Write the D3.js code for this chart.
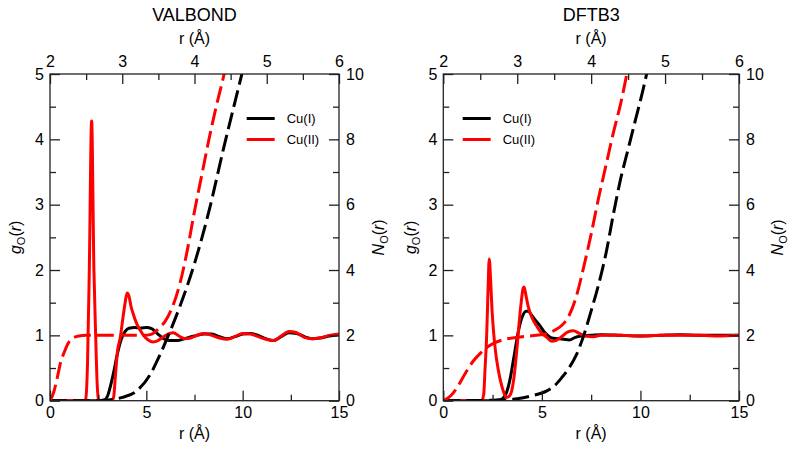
<!DOCTYPE html>
<html><head><meta charset="utf-8">
<script src="https://cdn.jsdelivr.net/npm/d3@7"></script>
<style>
body{margin:0;background:#fff}
text{font-family:"Liberation Sans",Arial,Helvetica,sans-serif;fill:#000}
</style>
</head><body>
<svg id="chart" width="800" height="456"></svg>
<script>
// ---------------- data ----------------
const panelTitles = ["VALBOND", "DFTB3"];
const seriesNames = ["Cu(I)", "Cu(II)"];
const seriesColors = ["#000000", "#ff0000"];

const bottomTicks = [0, 5, 10, 15];
const bottomMinor = [2.5, 7.5, 12.5];
const topTicks = [2, 3, 4, 5, 6];
const topMinor = [2.5, 3.5, 4.5, 5.5];
const leftTicks = [0, 1, 2, 3, 4, 5];
const leftMinor = [0.5, 1.5, 2.5, 3.5, 4.5];
const rightTicks = [0, 2, 4, 6, 8, 10];
const rightMinor = [1, 3, 5, 7, 9];

// g_O(r) vs r (bottom axis, 0-15 Å)
const valbondG_CuI = [[0,0],[2.5,0],[2.8,0.01],[3.0,0.08],[3.1,0.18],[3.3,0.43],[3.5,0.72],[3.7,0.94],[3.9,1.06],[4.1,1.11],[4.4,1.12],[4.7,1.11],[5.0,1.12],[5.3,1.1],[5.6,1.02],[5.9,0.95],[6.2,0.92],[6.6,0.92],[7.0,0.95],[7.5,0.99],[8.0,1.02],[8.4,1.02],[8.8,0.98],[9.2,0.95],[9.6,0.98],[10.0,1.02],[10.4,1.03],[10.8,1.0],[11.2,0.95],[11.6,0.92],[12.0,0.98],[12.4,1.04],[12.8,1.03],[13.2,0.98],[13.6,0.95],[14.0,0.96],[14.5,0.99],[15.0,1.01]];
const valbondG_CuII = [[0,0],[1.8,0],[1.85,0.02],[1.95,0.6],[2.04,2.0],[2.16,4.28],[2.28,2.0],[2.37,1.0],[2.45,0.25],[2.52,0.02],[2.6,0],[3.2,0],[3.3,0.05],[3.4,0.4],[3.5,0.75],[3.65,0.97],[3.8,1.3],[3.9,1.5],[4.0,1.65],[4.1,1.6],[4.2,1.45],[4.35,1.3],[4.5,1.18],[4.7,1.07],[4.85,1.0],[5.1,0.93],[5.35,0.9],[5.6,0.92],[5.9,0.98],[6.2,1.03],[6.4,1.04],[6.7,0.99],[7.0,0.95],[7.3,0.96],[7.7,1.01],[8.0,1.03],[8.4,1.0],[8.8,0.96],[9.2,0.94],[9.6,0.98],[10.0,1.03],[10.4,1.02],[10.8,0.98],[11.2,0.94],[11.6,0.92],[12.0,0.99],[12.4,1.06],[12.8,1.04],[13.2,0.97],[13.6,0.95],[14.0,0.96],[14.5,1.0],[15.0,1.02]];
const dftb3G_CuI = [[0,0],[2.5,0],[2.8,0.01],[3.0,0.03],[3.2,0.12],[3.4,0.35],[3.6,0.7],[3.8,1.05],[4.0,1.28],[4.2,1.37],[4.3,1.37],[4.5,1.3],[4.7,1.22],[4.9,1.15],[5.1,1.06],[5.3,1.0],[5.5,0.96],[5.8,0.95],[6.1,0.94],[6.4,0.93],[6.7,0.97],[7.0,0.99],[7.5,1.0],[8.0,1.01],[9.0,1.0],[10.0,0.99],[11.0,1.0],[12.0,1.01],[13.0,1.0],[14.0,1.0],[15.0,1.0]];
const dftb3G_CuII = [[0,0],[1.95,0],[2.05,0.1],[2.12,0.5],[2.2,1.0],[2.27,1.7],[2.33,2.17],[2.4,1.85],[2.47,1.4],[2.54,1.09],[2.65,0.75],[2.79,0.47],[2.92,0.28],[3.04,0.15],[3.2,0.05],[3.35,0.07],[3.47,0.15],[3.56,0.3],[3.64,0.5],[3.76,0.88],[3.85,1.2],[3.95,1.5],[4.05,1.72],[4.1,1.74],[4.2,1.6],[4.3,1.45],[4.5,1.27],[4.74,1.14],[5.0,1.03],[5.25,0.97],[5.5,0.91],[5.7,0.92],[6.0,0.98],[6.3,1.05],[6.6,1.07],[6.9,1.03],[7.2,0.99],[7.6,0.98],[8.0,1.0],[9.0,1.0],[10.0,0.99],[11.0,1.0],[12.0,1.0],[13.0,1.0],[14.0,0.99],[15.0,1.0]];

// N_O(r) vs r (top axis, 2-6 Å; right axis 0-10)
const valbondN_CuI = [[2.0,0],[2.6,0],[2.8,0.02],[3.0,0.1],[3.2,0.3],[3.4,0.85],[3.5,1.3],[3.6,1.8],[3.8,2.9],[4.0,4.2],[4.2,5.8],[4.4,7.7],[4.6,9.5],[4.7,10.4]];
const valbondN_CuII = [[2.0,0],[2.05,0.25],[2.1,0.7],[2.15,1.2],[2.2,1.5],[2.25,1.75],[2.3,1.9],[2.4,1.98],[2.5,2.0],[3.3,2.0],[3.4,2.03],[3.5,2.2],[3.6,2.45],[3.7,2.9],[3.8,3.6],[3.9,4.6],[4.0,5.8],[4.1,6.9],[4.2,8.0],[4.3,9.0],[4.4,9.9],[4.45,10.4]];
const dftb3N_CuI = [[2.0,0],[2.8,0.02],[3.0,0.06],[3.2,0.15],[3.4,0.3],[3.5,0.45],[3.6,0.7],[3.7,1.0],[3.8,1.4],[3.9,2.0],[4.0,2.75],[4.1,3.55],[4.2,4.5],[4.3,5.7],[4.4,6.8],[4.5,7.7],[4.6,8.6],[4.7,9.5],[4.78,10.3]];
const dftb3N_CuII = [[2.0,0],[2.1,0.15],[2.2,0.45],[2.3,0.85],[2.4,1.2],[2.5,1.45],[2.6,1.65],[2.7,1.78],[2.8,1.86],[3.0,1.94],[3.2,1.99],[3.4,2.05],[3.5,2.15],[3.6,2.3],[3.7,2.6],[3.8,3.2],[3.9,4.1],[4.0,5.1],[4.1,6.2],[4.2,7.2],[4.3,8.2],[4.4,9.1],[4.5,10.2]];

const gData = [[valbondG_CuI, valbondG_CuII], [dftb3G_CuI, dftb3G_CuII]];
const nData = [[valbondN_CuI, valbondN_CuII], [dftb3N_CuI, dftb3N_CuII]];

// ---------------- layout ----------------
const svg = d3.select("#chart");
const panelX = [[50, 339], [443.3, 739]];
const yTop = 74, yBot = 400.7;
const legendX = [246.7, 462.7];
const gLabelX = [21, 416];
const nLabelX = [383.5, 783];
const fmt = d3.format("d");

panelTitles.forEach((title, p) => {
  const [x0, x1] = panelX[p];
  const xB = d3.scaleLinear().domain([0, 15]).range([x0, x1]);
  const xT = d3.scaleLinear().domain([2, 6]).range([x0, x1]);
  const yL = d3.scaleLinear().domain([0, 5]).range([yBot, yTop]);
  const yR = d3.scaleLinear().domain([0, 10]).range([yBot, yTop]);
  const g = svg.append("g");

  const clipId = "clip" + p;
  g.append("clipPath").attr("id", clipId).append("rect")
    .attr("x", x0).attr("y", yTop).attr("width", x1 - x0).attr("height", yBot - yTop);

  const plot = g.append("g").attr("clip-path", `url(#${clipId})`);
  const lineG = d3.line().x(d => xB(d[0])).y(d => yL(d[1])).curve(d3.curveMonotoneX);
  const lineN = d3.line().x(d => xT(d[0])).y(d => yR(d[1])).curve(d3.curveMonotoneX);

  gData[p].forEach((s, i) => {
    plot.append("path").attr("d", lineG(s)).attr("fill", "none")
      .attr("stroke", seriesColors[i]).attr("stroke-width", 3).attr("stroke-linejoin", "round");
  });
  nData[p].forEach((s, i) => {
    plot.append("path").attr("d", lineN(s)).attr("fill", "none")
      .attr("stroke", seriesColors[i]).attr("stroke-width", 3)
      .attr("stroke-dasharray", "17,6");
  });

  // axes
  const styleAxis = sel => {
    sel.select(".domain").remove();
    sel.selectAll(".tick line").attr("stroke", "#222").attr("stroke-width", 1.3);
    sel.selectAll(".tick text").style("font-size", "16px")
      .style("font-family", '"Liberation Sans", Arial, sans-serif').attr("fill", "#000");
  };
  g.append("g").attr("transform", `translate(0,${yBot})`)
    .call(d3.axisBottom(xB).tickValues(bottomTicks).tickFormat(fmt).tickSizeInner(-10).tickSizeOuter(0).tickPadding(6)).call(styleAxis);
  g.append("g").attr("transform", `translate(0,${yBot})`)
    .call(d3.axisBottom(xB).tickValues(bottomMinor).tickSizeInner(-6).tickSizeOuter(0).tickFormat("")).call(styleAxis);
  g.append("g").attr("transform", `translate(0,${yTop})`)
    .call(d3.axisTop(xT).tickValues(topTicks).tickFormat(fmt).tickSizeInner(-10).tickSizeOuter(0).tickPadding(7)).call(styleAxis);
  g.append("g").attr("transform", `translate(0,${yTop})`)
    .call(d3.axisTop(xT).tickValues(topMinor).tickSizeInner(-6).tickSizeOuter(0).tickFormat("")).call(styleAxis);
  g.append("g").attr("transform", `translate(${x0},0)`)
    .call(d3.axisLeft(yL).tickValues(leftTicks).tickFormat(fmt).tickSizeInner(-10).tickSizeOuter(0).tickPadding(6)).call(styleAxis);
  g.append("g").attr("transform", `translate(${x0},0)`)
    .call(d3.axisLeft(yL).tickValues(leftMinor).tickSizeInner(-6).tickSizeOuter(0).tickFormat("")).call(styleAxis);
  g.append("g").attr("transform", `translate(${x1},0)`)
    .call(d3.axisRight(yR).tickValues(rightTicks).tickFormat(fmt).tickSizeInner(-10).tickSizeOuter(0).tickPadding(7)).call(styleAxis);
  g.append("g").attr("transform", `translate(${x1},0)`)
    .call(d3.axisRight(yR).tickValues(rightMinor).tickSizeInner(-6).tickSizeOuter(0).tickFormat("")).call(styleAxis);

  g.append("rect").attr("x", x0).attr("y", yTop).attr("width", x1 - x0).attr("height", yBot - yTop)
    .attr("fill", "none").attr("stroke", "#222").attr("stroke-width", 1.3);

  const cx = (x0 + x1) / 2;
  g.append("text").attr("x", cx).attr("y", 20.5).attr("text-anchor", "middle")
    .style("font-size", "18px").text(title);
  g.append("text").attr("x", cx).attr("y", 44).attr("text-anchor", "middle")
    .style("font-size", "16px").text("r (Å)");
  g.append("text").attr("x", cx).attr("y", 439).attr("text-anchor", "middle")
    .style("font-size", "16px").text("r (Å)");

  // y-axis labels
  const cy = (yTop + yBot) / 2;
  const gl = g.append("text").attr("transform", `translate(${gLabelX[p]},${cy}) rotate(-90)`)
    .attr("text-anchor", "middle").style("font-size", "16px");
  gl.append("tspan").style("font-style", "italic").text("g");
  gl.append("tspan").attr("dy", 4).style("font-size", "11px").text("O");
  gl.append("tspan").attr("dy", -4).text("(");
  gl.append("tspan").style("font-style", "italic").text("r");
  gl.append("tspan").text(")");

  const nl = g.append("text").attr("transform", `translate(${nLabelX[p]},${cy}) rotate(-90)`)
    .attr("text-anchor", "middle").style("font-size", "16px");
  nl.append("tspan").style("font-style", "italic").text("N");
  nl.append("tspan").attr("dy", 4).style("font-size", "11px").text("O");
  nl.append("tspan").attr("dy", -4).text("(");
  nl.append("tspan").style("font-style", "italic").text("r");
  nl.append("tspan").text(")");

  // legend
  seriesNames.forEach((name, i) => {
    const ly = 118.5 + i * 21;
    g.append("line").attr("x1", legendX[p]).attr("x2", legendX[p] + 28)
      .attr("y1", ly).attr("y2", ly).attr("stroke", seriesColors[i]).attr("stroke-width", 3);
    g.append("text").attr("x", legendX[p] + 40).attr("y", ly).attr("dy", "0.35em")
      .style("font-size", "13px").text(name);
  });
});
</script>
</body></html>
